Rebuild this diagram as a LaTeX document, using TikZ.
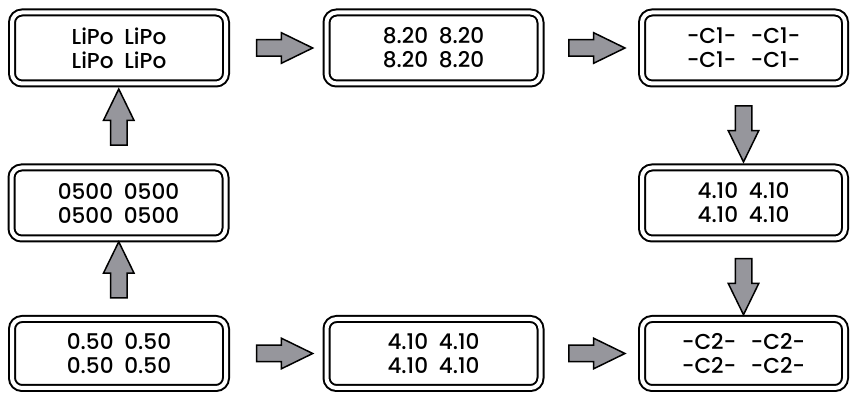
\documentclass[tikz,border=0pt]{standalone}
\usepackage{fontspec}
\setmainfont{Poppins}[BoldFont={* Medium}]
\usetikzlibrary{shapes.arrows,calc,positioning}
\definecolor{arrowGray}{RGB}{150,150,156}
\tikzstyle{lcd} = [draw, line width=1pt, double=white, double distance=2pt, rounded corners=5pt, minimum width=107pt, minimum height=35.5pt, inner sep=0pt, align=center, font={\fontsize{10.8}{12}\selectfont\bfseries\spaceskip=0.5em\relax}]
\tikzstyle{blockArrow} = [draw, fill=arrowGray, line width=0.75pt, single arrow, single arrow head extend=3.5pt, single arrow tip angle=52, inner sep=3.75pt, minimum height=28pt]

\begin{document}
\begin{tikzpicture}[x=0.5pt,y=-0.5pt]
				\useasboundingbox (0,0) rectangle (850,394);
				% top row
				\node[lcd] (b1) at (119,48) {LiPo LiPo\\LiPo LiPo};
				\node[lcd] (b2) at (433.5,48) {8.20 8.20\\8.20 8.20};
				\node[lcd,minimum width=101.5pt] (b3) at (743.5,48) {-C1- \,-C1-\\-C1- \,-C1-};
				% middle row
				\node[lcd] (m1) at (118.5,203) {0500 0500\\0500 0500};
				\node[lcd,minimum width=101.5pt] (m3) at (743.5,203) {4.10 4.10\\4.10 4.10};
				% bottom row
				\node[lcd,minimum height=34.5pt] (r1) at (119,353.5) {0.50 0.50\\0.50 0.50};
				\node[lcd,minimum height=34.5pt] (r2) at (433.5,353.5) {4.10 4.10\\4.10 4.10};
				\node[lcd,minimum width=101.5pt,minimum height=34.5pt] (r3) at (743.5,353.5) {-C2- \,-C2-\\-C2- \,-C2-};
				% block arrows
				\foreach \a/\b/\r in {r1/r2/0, r2/r3/0, r1/m1/90, m1/b1/90, b1/b2/0, b2/b3/0, b3/m3/270, m3/r3/270}
					\node[blockArrow, shape border rotate=\r] (arr-\a-\b) at ($(\a)!.5!(\b)$) {};
				\end{tikzpicture}
\end{document}
